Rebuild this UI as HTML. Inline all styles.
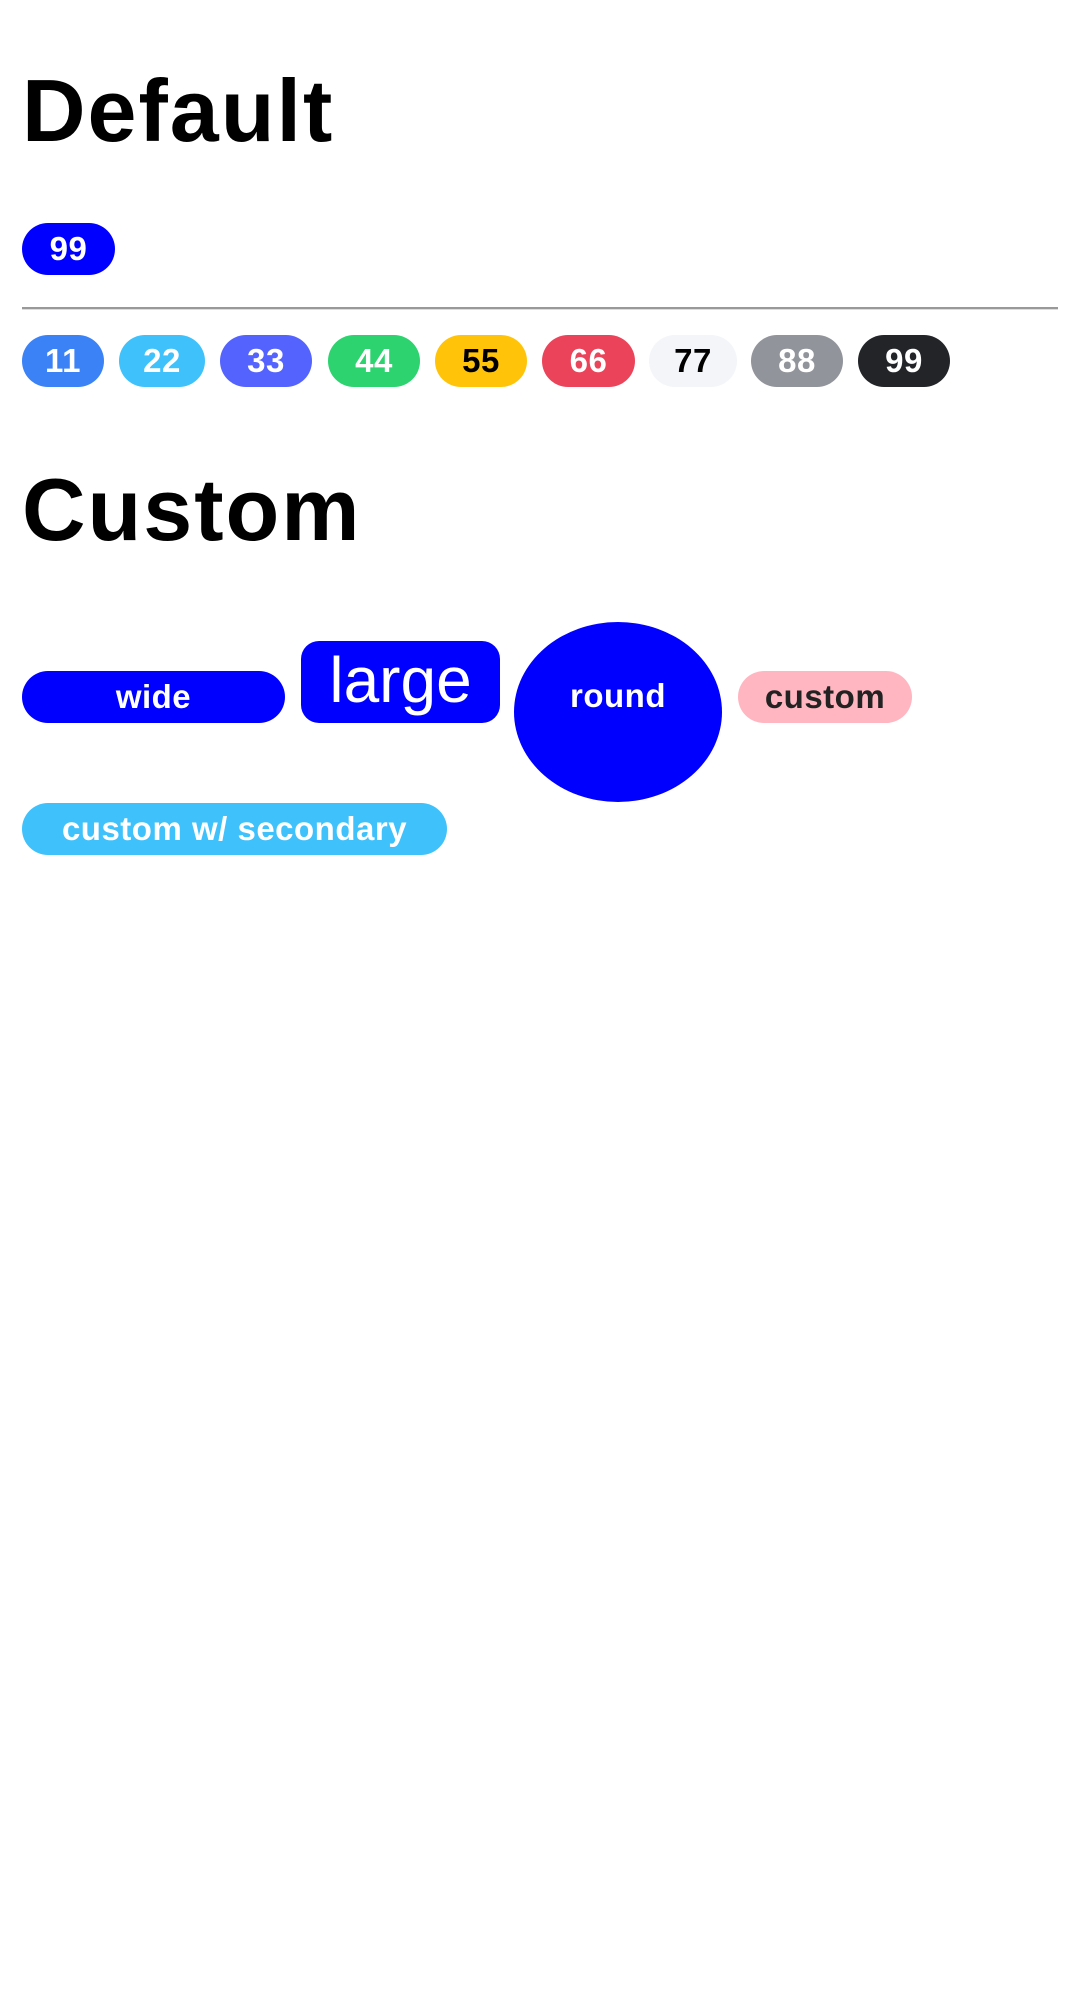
<!DOCTYPE html>
<html><head><meta charset="utf-8"><style>
html,body{margin:0;padding:0;background:#fff;width:1081px;height:1999px;overflow:hidden;font-family:"Liberation Sans",Arial,sans-serif}
.h{position:absolute;left:22px;font-weight:bold;font-size:88px;line-height:1;color:#000;letter-spacing:2px}
.b{position:absolute;display:flex;align-items:center;justify-content:center;font-weight:bold;font-size:33px;color:#fff;border-radius:26px;height:52px;letter-spacing:0.5px}
</style></head><body>
<div class="h" style="top:67px">Default</div>
<div class="b" style="left:22px;top:223px;width:93px;background:#0000ff">99</div>
<div style="position:absolute;left:22px;top:307px;width:1036px;height:2px;background:#999;border-bottom:1px solid #ddd"></div>
<div class="b" style="left:22px;top:335px;width:82px;background:#3b82f6">11</div>
<div class="b" style="left:119px;top:335px;width:86px;background:#3fc1fc">22</div>
<div class="b" style="left:220px;top:335px;width:92px;background:#5563fe">33</div>
<div class="b" style="left:328px;top:335px;width:92px;background:#2dd36f">44</div>
<div class="b" style="left:435px;top:335px;width:92px;background:#ffc409;color:#000">55</div>
<div class="b" style="left:542px;top:335px;width:93px;background:#eb445a">66</div>
<div class="b" style="left:649px;top:335px;width:88px;background:#f4f5f8;color:#000">77</div>
<div class="b" style="left:751px;top:335px;width:92px;background:#92949c">88</div>
<div class="b" style="left:858px;top:335px;width:92px;background:#222428">99</div>
<div class="h" style="top:466px">Custom</div>
<div class="b" style="left:22px;top:671px;width:263px;background:#0000ff">wide</div>
<div class="b" style="left:301px;top:641px;width:199px;height:82px;border-radius:18px;background:#0000ff;font-weight:normal;font-size:64px;padding-bottom:4px;box-sizing:border-box;letter-spacing:0">large</div>
<div class="b" style="left:514px;top:622px;width:208px;height:180px;border-radius:50%;background:#0000ff;padding-bottom:32px;box-sizing:border-box">round</div>
<div class="b" style="left:738px;top:671px;width:174px;background:#ffb6c1;color:#222">custom</div>
<div class="b" style="left:22px;top:803px;width:425px;background:#3fc1fc">custom w/ secondary</div>
</body></html>
